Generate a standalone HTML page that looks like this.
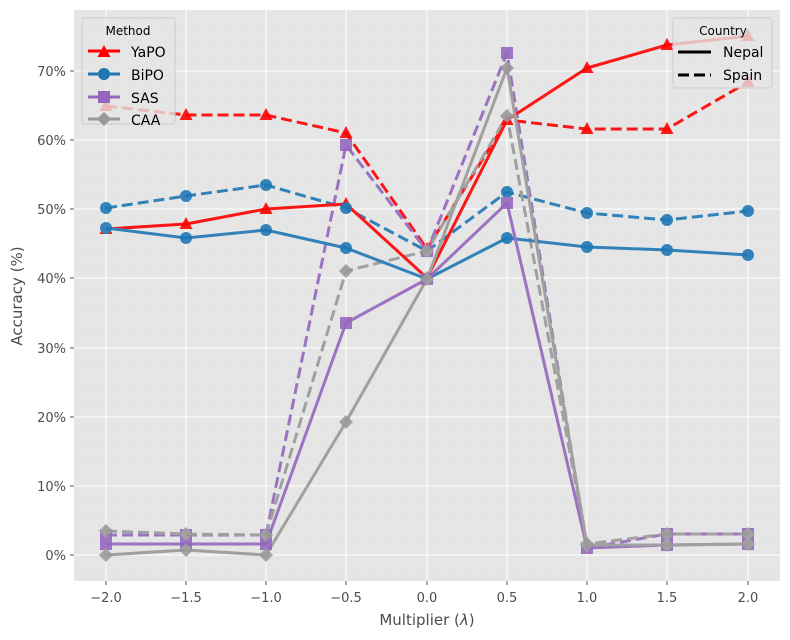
<!DOCTYPE html>
<html><head><meta charset="utf-8"><style>body{margin:0;background:#fff}svg{display:block}</style></head><body>
<svg width="790" height="640" xmlns="http://www.w3.org/2000/svg" font-family="DejaVu Sans, Liberation Sans, sans-serif">
<rect width="790" height="640" fill="#fff"/>
<rect x="74" y="10" width="706" height="571" fill="#e5e5e5"/>
<g stroke="#ececec" stroke-width="0.6">
<path d="M74 562H780M74 548H780M74 534H780M74 521H780M74 507H780M74 493H780M74 479H780M74 465H780M74 452H780M74 438H780M74 424H780M74 410H780M74 396H780M74 382H780M74 369H780M74 355H780M74 341H780M74 327H780M74 313H780M74 299H780M74 286H780M74 272H780M74 258H780M74 244H780M74 230H780M74 216H780M74 203H780M74 189H780M74 175H780M74 161H780M74 147H780M74 133H780M74 120H780M74 106H780M74 92H780M74 78H780M74 64H780M74 50H780M74 37H780M74 23H780"/>
<path d="M122 10V581M138 10V581M154 10V581M170 10V581M202 10V581M218 10V581M234 10V581M250 10V581M282 10V581M298 10V581M314 10V581M330 10V581M362 10V581M378 10V581M394 10V581M411 10V581M443 10V581M459 10V581M475 10V581M491 10V581M523 10V581M539 10V581M555 10V581M571 10V581M603 10V581M619 10V581M635 10V581M651 10V581M683 10V581M699 10V581M715 10V581M731 10V581"/>
</g>
<g stroke="#fff" stroke-width="1">
<path d="M74 555H780M74 486H780M74 417H780M74 348H780M74 278H780M74 209H780M74 140H780M74 71H780"/>
<path d="M106 10V581M186 10V581M266 10V581M346 10V581M427 10V581M507 10V581M587 10V581M667 10V581M748 10V581"/>
</g>
<g font-size="13" fill="#4d4d4d" text-anchor="end">
<text x="66" y="560">0%</text><text x="66" y="491">10%</text><text x="66" y="422">20%</text><text x="66" y="353">30%</text><text x="66" y="283">40%</text><text x="66" y="214">50%</text><text x="66" y="145">60%</text><text x="66" y="76">70%</text>
</g>
<g stroke="#555" stroke-width="1"><path d="M70 555H74M70 486H74M70 417H74M70 348H74M70 278H74M70 209H74M70 140H74M70 71H74M106 581V585M186 581V585M266 581V585M346 581V585M427 581V585M507 581V585M587 581V585M667 581V585M748 581V585"/></g>
<g font-size="13" fill="#4d4d4d" text-anchor="middle">
<text x="106" y="602">−2.0</text><text x="186" y="602">−1.5</text><text x="266" y="602">−1.0</text><text x="346" y="602">−0.5</text><text x="427" y="602">0.0</text><text x="507" y="602">0.5</text><text x="587" y="602">1.0</text><text x="667" y="602">1.5</text><text x="748" y="602">2.0</text>
</g>
<text x="427" y="625" font-size="15" fill="#4d4d4d" text-anchor="middle">Multiplier (<tspan font-style="italic">λ</tspan>)</text>
<text transform="translate(22 296) rotate(-90)" font-size="15" fill="#4d4d4d" text-anchor="middle">Accuracy (%)</text>
<defs>
<path id="tri" d="M0 -7L6.5 5H-6.5Z"/>
</defs>
<g fill="none" stroke-width="3" stroke-linejoin="round" opacity="0.9">
<polyline stroke="#ff0000" stroke-dasharray="11,5" points="106,106 186,115 266,115 346,133 427,249 507,120 587,129 667,129 748,82"/>
<polyline stroke="#1f77b4" stroke-dasharray="11,5" points="106,208 186,196 266,185 346,208 427,251 507,192 587,213 667,220 748,211"/>
<polyline stroke="#9467bd" stroke-dasharray="11,5" points="106,535 186,535 266,535 346,145 427,251 507,53 587,548 667,534 748,534"/>
<polyline stroke="#999" stroke-dasharray="11,5" points="106,531 186,534 266,535 346,271 427,251 507,116 587,544 667,534 748,534"/>
<polyline stroke="#ff0000" points="106,229 186,224 266,209 346,204 427,278 507,120 587,68 667,45 748,36"/>
<polyline stroke="#1f77b4" points="106,228 186,238 266,230 346,248 427,279 507,238 587,247 667,250 748,255"/>
<polyline stroke="#9467bd" points="106,544 186,544 266,544 346,323 427,279 507,203 587,548 667,545 748,544"/>
<polyline stroke="#999" points="106,555 186,550 266,555 346,422 427,279 507,68 587,545 667,545 748,544"/>
</g>
<g opacity="0.9">
<g fill="#ff0000">
<use href="#tri" x="106" y="106"/><use href="#tri" x="186" y="115"/><use href="#tri" x="266" y="115"/><use href="#tri" x="346" y="133"/><use href="#tri" x="427" y="249"/><use href="#tri" x="507" y="120"/><use href="#tri" x="587" y="129"/><use href="#tri" x="667" y="129"/><use href="#tri" x="748" y="82"/>
<use href="#tri" x="106" y="229"/><use href="#tri" x="186" y="224"/><use href="#tri" x="266" y="209"/><use href="#tri" x="346" y="204"/><use href="#tri" x="427" y="278"/><use href="#tri" x="507" y="120"/><use href="#tri" x="587" y="68"/><use href="#tri" x="667" y="45"/><use href="#tri" x="748" y="36"/>
</g>
<g fill="#1f77b4">
<circle cx="106" cy="208" r="6"/><circle cx="186" cy="196" r="6"/><circle cx="266" cy="185" r="6"/><circle cx="346" cy="208" r="6"/><circle cx="427" cy="251" r="6"/><circle cx="507" cy="192" r="6"/><circle cx="587" cy="213" r="6"/><circle cx="667" cy="220" r="6"/><circle cx="748" cy="211" r="6"/>
<circle cx="106" cy="228" r="6"/><circle cx="186" cy="238" r="6"/><circle cx="266" cy="230" r="6"/><circle cx="346" cy="248" r="6"/><circle cx="427" cy="279" r="6"/><circle cx="507" cy="238" r="6"/><circle cx="587" cy="247" r="6"/><circle cx="667" cy="250" r="6"/><circle cx="748" cy="255" r="6"/>
</g>
<g fill="#9467bd">
<rect x="100" y="529" width="12" height="12"/><rect x="180" y="529" width="12" height="12"/><rect x="260" y="529" width="12" height="12"/><rect x="340" y="139" width="12" height="12"/><rect x="421" y="245" width="12" height="12"/><rect x="501" y="47" width="12" height="12"/><rect x="581" y="542" width="12" height="12"/><rect x="661" y="528" width="12" height="12"/><rect x="742" y="528" width="12" height="12"/>
<rect x="100" y="538" width="12" height="12"/><rect x="180" y="538" width="12" height="12"/><rect x="260" y="538" width="12" height="12"/><rect x="340" y="317" width="12" height="12"/><rect x="421" y="273" width="12" height="12"/><rect x="501" y="197" width="12" height="12"/><rect x="581" y="542" width="12" height="12"/><rect x="661" y="539" width="12" height="12"/><rect x="742" y="538" width="12" height="12"/>
</g>
<g fill="#999">
<path d="M106 524l7 7-7 7-7-7zM186 527l7 7-7 7-7-7zM266 528l7 7-7 7-7-7zM346 264l7 7-7 7-7-7zM427 244l7 7-7 7-7-7zM507 109l7 7-7 7-7-7zM587 537l7 7-7 7-7-7zM667 527l7 7-7 7-7-7zM748 527l7 7-7 7-7-7z"/>
<path d="M106 548l7 7-7 7-7-7zM186 543l7 7-7 7-7-7zM266 548l7 7-7 7-7-7zM346 415l7 7-7 7-7-7zM427 272l7 7-7 7-7-7zM507 61l7 7-7 7-7-7zM587 538l7 7-7 7-7-7zM667 538l7 7-7 7-7-7zM748 537l7 7-7 7-7-7z"/>
</g>
</g>
<rect x="82" y="18" width="93" height="106" rx="3" fill="#e5e5e5" fill-opacity="0.8" stroke="#ccc"/>
<text x="128" y="35" font-size="12" text-anchor="middle" fill="#000">Method</text>
<g stroke-width="3">
<line x1="88" y1="51" x2="120" y2="51" stroke="#ff0000"/><line x1="88" y1="74" x2="120" y2="74" stroke="#1f77b4"/><line x1="88" y1="97" x2="120" y2="97" stroke="#9467bd"/><line x1="88" y1="119" x2="120" y2="119" stroke="#999"/>
</g>
<use href="#tri" x="104" y="52" fill="#ff0000"/><circle cx="104" cy="74" r="6" fill="#1f77b4"/><rect x="98" y="91" width="12" height="12" fill="#9467bd"/><path d="M104 112l7 7-7 7-7-7z" fill="#999"/>
<g font-size="14" fill="#000"><text x="131" y="57">YaPO</text><text x="131" y="80">BiPO</text><text x="131" y="103">SAS</text><text x="131" y="125">CAA</text></g>
<rect x="673" y="18" width="99" height="70" rx="3" fill="#e5e5e5" fill-opacity="0.8" stroke="#ccc"/>
<text x="723" y="35" font-size="12" text-anchor="middle" fill="#000">Country</text>
<line x1="678" y1="52" x2="711" y2="52" stroke="#000" stroke-width="3"/>
<line x1="678" y1="75" x2="711" y2="75" stroke="#000" stroke-width="3" stroke-dasharray="11,5"/>
<g font-size="14" fill="#000"><text x="723" y="57">Nepal</text><text x="723" y="80">Spain</text></g>
</svg>
</body></html>
